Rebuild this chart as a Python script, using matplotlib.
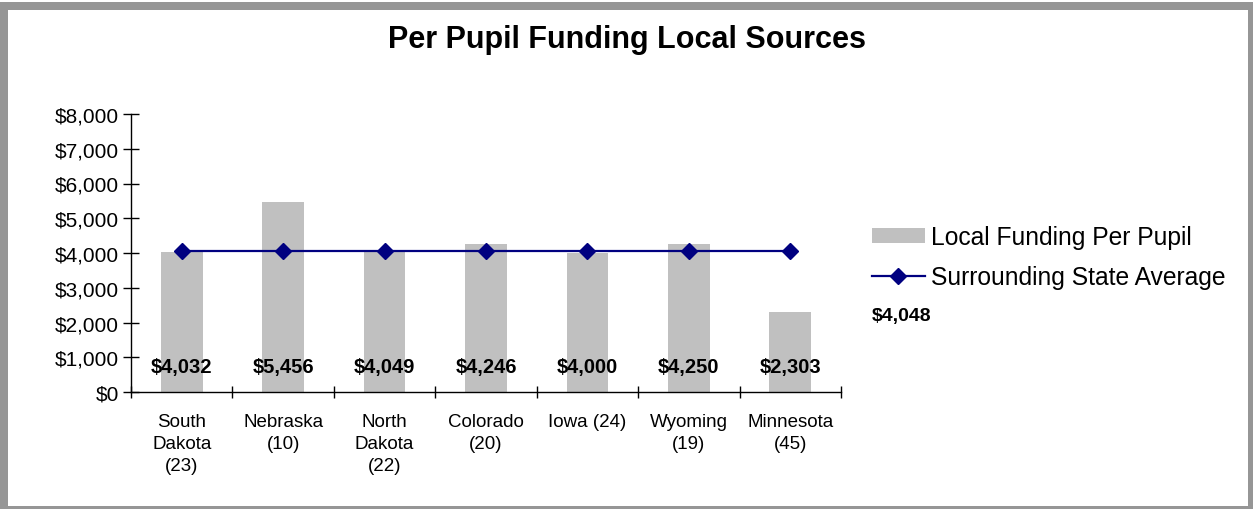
import matplotlib
matplotlib.use("Agg")
import matplotlib.pyplot as plt
from matplotlib.patches import Rectangle, Patch
from matplotlib.lines import Line2D
from matplotlib.ticker import FuncFormatter, FixedLocator

plt.rcParams['font.family'] = ['Liberation Sans', 'DejaVu Sans']

# Data
states = ["South\nDakota\n(23)", "Nebraska\n(10)", "North\nDakota\n(22)",
          "Colorado\n(20)", "Iowa (24)", "Wyoming\n(19)", "Minnesota\n(45)"]
local_funding = [4032, 5456, 4049, 4246, 4000, 4250, 2303]
state_average = [4048] * 7
y_ticks = [0, 1000, 2000, 3000, 4000, 5000, 6000, 7000, 8000]

W, H = 1253, 510
fig = plt.figure(figsize=(W / 100, H / 100), dpi=100)
fig.patch.set_facecolor("white")

# Gray frame around the chart area
frame_col = "#969696"
fig.patches.append(Rectangle((0, 0), 1, 1, transform=fig.transFigure,
                             facecolor=frame_col, edgecolor="none", zorder=-10))
fig.patches.append(Rectangle((8 / W, 3 / H), (1248 - 8) / W, (507 - 11) / H,
                             transform=fig.transFigure, facecolor="white",
                             edgecolor="none", zorder=-9))
fig.patches.append(Rectangle((0, (H - 3) / H), 1, 3 / H, transform=fig.transFigure,
                             facecolor="white", edgecolor="none", zorder=-8))

left, right, top, bottom = 131, 841, 115, 393
ax = fig.add_axes([left / W, (H - bottom) / H, (right - left) / W, (bottom - top) / H])
ax.set_facecolor("none")

x = list(range(len(states)))
ax.bar(x, local_funding, width=0.41, color="#C0C0C0", zorder=1)
ax.plot(x, state_average, color="#000080", linewidth=1.6, marker="D",
        markersize=8, markerfacecolor="#000080", markeredgecolor="#000080", zorder=3)

for xi, v in zip(x, local_funding):
    ax.text(xi, 748, f"${v:,}", ha="center", va="center", fontsize=14.5,
            fontweight="bold", color="black", zorder=4)

ax.set_xlim(-0.5, len(states) - 0.5)
ax.set_ylim(0, 8000)

for s in ["top", "right"]:
    ax.spines[s].set_visible(False)
for s in ["left", "bottom"]:
    ax.spines[s].set_linewidth(1.0)
    ax.spines[s].set_color("black")

ax.yaxis.set_major_locator(FixedLocator(y_ticks))
ax.yaxis.set_major_formatter(FuncFormatter(lambda v, p: f"${int(v):,}"))
ax.tick_params(axis="y", direction="inout", length=11, width=1, labelsize=15, pad=3)

ax.set_xticks(x)
ax.set_xticklabels(states, fontsize=13.5, linespacing=1.4, va="top")
ax.tick_params(axis="x", which="major", length=0, pad=15)
ax.set_xticks([i - 0.5 for i in range(len(states) + 1)], minor=True)
ax.tick_params(axis="x", which="minor", direction="inout", length=9, width=1)

fig.text(627 / W, (H - 40) / H, "Per Pupil Funding Local Sources", ha="center",
         va="center", fontsize=22, fontweight="bold")

handles = [Patch(facecolor="#C0C0C0", edgecolor="none"),
           Line2D([0], [0], color="#000080", linewidth=1.6, marker="D",
                  markersize=8, markerfacecolor="#000080")]
fig.legend(handles, ["Local Funding Per Pupil", "Surrounding State Average"],
           loc="upper left", bbox_to_anchor=(872 / W, (H - 226) / H),
           frameon=False, fontsize=17.7, handlelength=2.15, handleheight=0.6,
           handletextpad=0.24, labelspacing=0.66, borderaxespad=0, borderpad=0)

fig.text(872 / W, (H - 316) / H, "$4,048", ha="left", va="center",
         fontsize=14, fontweight="bold")

fig.savefig("out.png", dpi=100)
